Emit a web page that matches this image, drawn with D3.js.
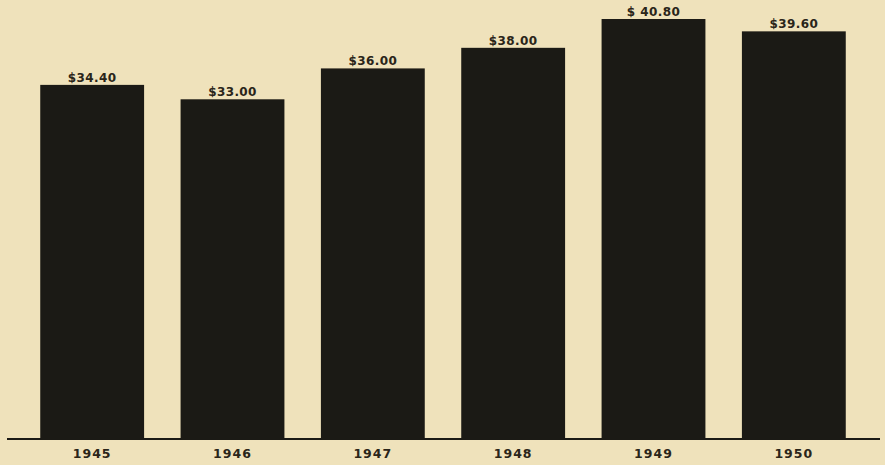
<!DOCTYPE html>
<html>
<head>
<meta charset="utf-8">
<script src="https://cdn.jsdelivr.net/npm/d3@7"></script>
<style>
  html, body { margin: 0; padding: 0; background: #efe2bb; }
  svg { display: block; }
  text { font-family: "DejaVu Sans", sans-serif; font-weight: bold; fill: #2a2519; }
</style>
</head>
<body>
<svg id="chart"></svg>
<script>
// years and average values
const years = ["1945", "1946", "1947", "1948", "1949", "1950"];
const values = [34.40, 33.00, 36.00, 38.00, 40.80, 39.60];
const valueLabels = ["$34.40", "$33.00", "$36.00", "$38.00", "$ 40.80", "$39.60"];

const width = 885;
const height = 465;
const baseY = 439;

const svg = d3.select("#chart")
  .attr("width", width)
  .attr("height", height);

svg.append("rect")
  .attr("width", width)
  .attr("height", height)
  .attr("fill", "#efe2bb");

const x = d3.scaleBand()
  .domain(years)
  .range([22, 864])
  .paddingInner(0.26)
  .paddingOuter(0.13);

const y = d3.scaleLinear()
  .domain([0, 40.8])
  .range([baseY, 19]);

svg.selectAll(".bar")
  .data(values)
  .enter()
  .append("rect")
  .attr("class", "bar")
  .attr("x", (d, i) => x(years[i]))
  .attr("y", d => y(d))
  .attr("width", x.bandwidth())
  .attr("height", d => baseY - y(d))
  .attr("fill", "#1b1a15");

// baseline
svg.append("line")
  .attr("x1", 7)
  .attr("x2", 880)
  .attr("y1", baseY)
  .attr("y2", baseY)
  .attr("stroke", "#1b1a15")
  .attr("stroke-width", 2);

svg.selectAll(".val")
  .data(values)
  .enter()
  .append("text")
  .attr("class", "val")
  .attr("x", (d, i) => x(years[i]) + x.bandwidth() / 2)
  .attr("y", d => y(d) - 3)
  .attr("text-anchor", "middle")
  .style("font-size", "12px")
  .style("letter-spacing", "0.4px")
  .text((d, i) => valueLabels[i]);

svg.selectAll(".year")
  .data(years)
  .enter()
  .append("text")
  .attr("class", "year")
  .attr("x", d => x(d) + x.bandwidth() / 2)
  .attr("y", 458)
  .attr("text-anchor", "middle")
  .style("font-size", "12.5px")
  .style("letter-spacing", "1px")
  .text(d => d);
</script>
</body>
</html>
